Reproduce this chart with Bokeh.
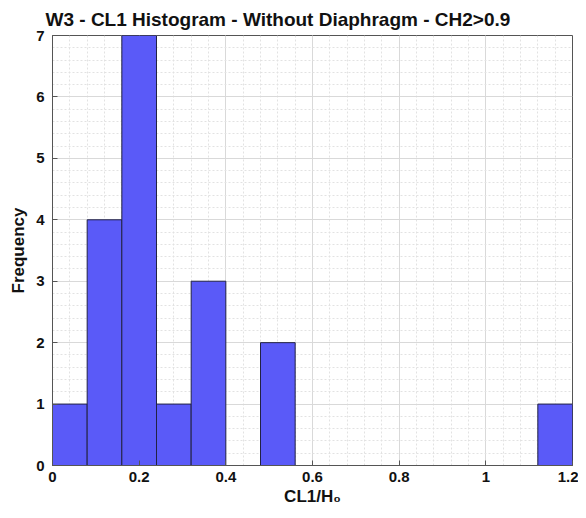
from bokeh.plotting import figure
from bokeh.models import FixedTicker, Range1d, Title
from bokeh.embed import file_html
from bokeh.resources import INLINE

bin_edges = [0.0, 0.08, 0.16, 0.24, 0.32, 0.40, 0.48, 0.56, 0.64, 0.72, 0.80, 0.88, 0.96, 1.04, 1.12, 1.20]
counts = [1, 4, 7, 1, 3, 0, 2, 0, 0, 0, 0, 0, 0, 0, 1]
x_ticks = [0, 0.2, 0.4, 0.6, 0.8, 1.0, 1.2]
y_ticks = [0, 1, 2, 3, 4, 5, 6, 7]

left = [bin_edges[i] for i in range(len(counts)) if counts[i] > 0]
right = [bin_edges[i + 1] for i in range(len(counts)) if counts[i] > 0]
top = [c for c in counts if c > 0]

p = figure(width=578, height=508, output_backend="svg", toolbar_location=None,
           x_range=Range1d(0, 1.2), y_range=Range1d(0, 7),
           min_border_left=52, min_border_right=6, min_border_top=10, min_border_bottom=10)

p.title = Title(text="W3 - CL1 Histogram - Without Diaphragm - CH2>0.9", align="left",
                text_font="Liberation Sans", text_font_size="19px", text_font_style="bold",
                text_color="#111111", offset=-7, standoff=12)

p.quad(left=left, right=right, bottom=0, top=top, fill_color="#5A5AF8", fill_alpha=1.0,
       line_color="#222244", line_width=1)

xt = FixedTicker(ticks=x_ticks, minor_ticks=[i * 0.04 for i in range(31)])
yt = FixedTicker(ticks=y_ticks, minor_ticks=[i * 0.2 for i in range(36)])

for ax in p.axis:
    ax.major_tick_in = 5
    ax.major_tick_out = 0
    ax.minor_tick_in = 0
    ax.minor_tick_out = 0
    ax.axis_line_color = "#555555"
    ax.major_tick_line_color = "#555555"
    ax.major_label_text_font = "Liberation Sans"
    ax.major_label_text_font_size = "15px"
    ax.major_label_text_font_style = "bold"
    ax.major_label_text_color = "#111111"
    ax.axis_label_text_font = "Liberation Sans"
    ax.axis_label_text_font_size = "17px"
    ax.axis_label_text_font_style = "bold"
    ax.axis_label_text_color = "#111111"

p.xaxis.ticker = xt
p.yaxis.ticker = yt
p.xaxis.major_label_overrides = {0: "0", 1: "1"}
p.xaxis.axis_label = "CL1/H₀"
p.yaxis.axis_label = "Frequency"
p.xaxis.axis_label_standoff = 2
p.yaxis.axis_label_standoff = 5
p.xaxis.major_label_standoff = 6
p.yaxis.major_label_standoff = 8

p.xgrid.grid_line_color = "#d9d9d9"
p.ygrid.grid_line_color = "#d9d9d9"
p.xgrid.minor_grid_line_color = "#e2e2e2"
p.ygrid.minor_grid_line_color = "#e2e2e2"
p.xgrid.minor_grid_line_dash = "2 2"
p.ygrid.minor_grid_line_dash = "2 2"
p.outline_line_color = "#555555"
p.grid.level = "underlay"

open("out.html", "w").write(file_html(p, INLINE))
